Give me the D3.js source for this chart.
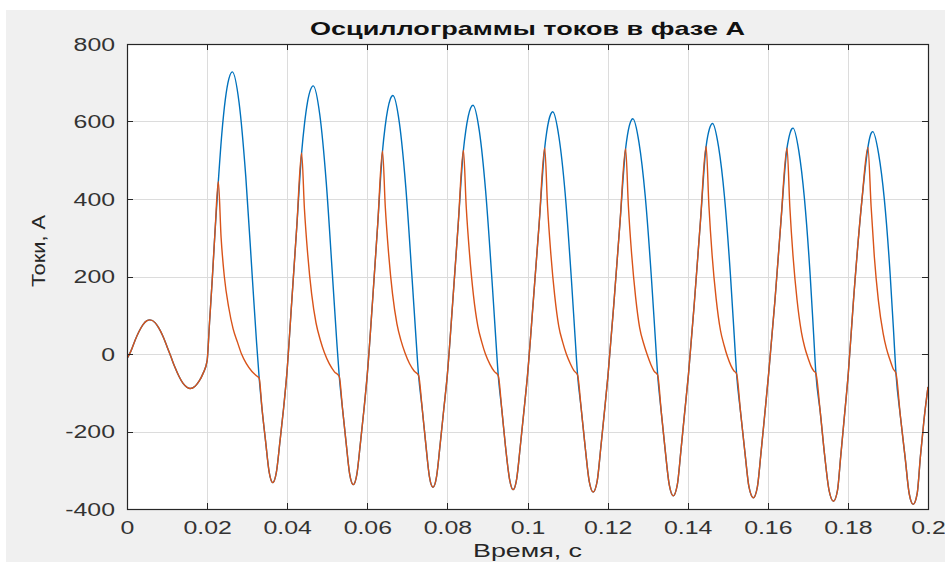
<!DOCTYPE html>
<html>
<head>
<meta charset="utf-8">
<script src="https://cdn.jsdelivr.net/npm/d3@7"></script>
<style>
  html, body { margin: 0; padding: 0; background: #ffffff; }
  svg { display: block; }
</style>
</head>
<body>
<svg id="chart" width="945" height="562"></svg>
<script>
// Axis ticks
const xTicks = [0, 0.02, 0.04, 0.06, 0.08, 0.1, 0.12, 0.14, 0.16, 0.18, 0.2];
const xTickLabels = ["0", "0.02", "0.04", "0.06", "0.08", "0.1", "0.12", "0.14", "0.16", "0.18", "0.2"];
const yTicks = [-400, -200, 0, 200, 400, 600, 800];
const yTickLabels = ["-400", "-200", "0", "200", "400", "600", "800"];

// [time, s ; current, A] where both phase-A currents coincide
const sharedTrace = [
  [0, -12], [0.001, 8], [0.002, 35], [0.003, 58], [0.004, 76], [0.005, 86], [0.0057, 88],
  [0.007, 81], [0.008, 66], [0.009, 45], [0.010, 19], [0.011, -8], [0.012, -35], [0.013, -58],
  [0.014, -76], [0.015, -86], [0.0158, -89], [0.017, -83], [0.018, -70], [0.019, -50], [0.0200, -18],
  [0.0206, 80], [0.0213, 195], [0.0220, 320], [0.0228, 445],
  [0.0330, -62], [0.0337, -140], [0.0346, -225], [0.0355, -305], [0.0364, -332], [0.0373, -305],
  [0.0382, -225], [0.0391, -140], [0.0399, -52], [0.0411, 130], [0.0424, 330], [0.0436, 519],
  [0.0530, -58], [0.0538, -140], [0.0547, -228], [0.0556, -310], [0.0565, -337], [0.0574, -310],
  [0.0583, -228], [0.0592, -140], [0.0600, -52], [0.0613, 135], [0.0626, 335], [0.0638, 524],
  [0.0728, -55], [0.0737, -140], [0.0746, -232], [0.0755, -316], [0.0764, -344], [0.0773, -316],
  [0.0782, -232], [0.0791, -142], [0.0800, -52], [0.0813, 130], [0.0827, 335], [0.0840, 526],
  [0.0927, -56], [0.0936, -145], [0.0945, -238], [0.0955, -322], [0.0964, -350], [0.0973, -322],
  [0.0982, -238], [0.0991, -148], [0.1000, -55], [0.1014, 130], [0.1029, 335], [0.1043, 532],
  [0.1125, -54], [0.1134, -140], [0.1144, -240], [0.1154, -328], [0.1164, -356], [0.1174, -328],
  [0.1183, -242], [0.1192, -150], [0.1201, -55], [0.1216, 135], [0.1231, 340], [0.1245, 530],
  [0.1325, -54], [0.1334, -150], [0.1344, -250], [0.1354, -338], [0.1364, -366], [0.1374, -338],
  [0.1383, -250], [0.1392, -155], [0.1402, -52], [0.1417, 138], [0.1432, 345], [0.1446, 536],
  [0.1522, -51], [0.1532, -150], [0.1543, -255], [0.1553, -343], [0.1564, -371], [0.1574, -343],
  [0.1583, -255], [0.1592, -160], [0.1602, -52], [0.1618, 140], [0.1633, 345], [0.1648, 532],
  [0.1720, -50], [0.1731, -150], [0.1742, -262], [0.1753, -352], [0.1764, -380], [0.1774, -352],
  [0.1782, -265], [0.1790, -175], [0.1801, -50], [0.1814, 139], [0.1835, 397], [0.1850, 533],
  [0.1920, -50], [0.1931, -160], [0.1943, -268], [0.1953, -360], [0.1963, -388], [0.1973, -360],
  [0.1981, -265], [0.1990, -170], [0.2000, -85]
];

// First current: positive half-wave humps
const blueHumps = [
  [0.02368, 569], [0.02455, 657], [0.02543, 710], [0.0263, 728],
  [0.02798, 649], [0.02965, 459], [0.03133, 191], [0.03233, 33],
  [0.04433, 595], [0.04505, 649], [0.04578, 681], [0.0465, 692],
  [0.04813, 618], [0.04975, 443], [0.05138, 190], [0.05235, 36],
  [0.06445, 587], [0.0651, 631], [0.06575, 658], [0.0664, 667],
  [0.0680, 597], [0.0696, 432], [0.0712, 192], [0.07216, 41],
  [0.0846, 577], [0.0852, 613], [0.0858, 635], [0.0864, 642],
  [0.08798, 575], [0.08955, 420], [0.09113, 191], [0.09207, 41],
  [0.1048, 573], [0.1053, 602], [0.1058, 619], [0.1063, 625],
  [0.10785, 560], [0.1094, 415], [0.11095, 194], [0.11188, 44],
  [0.12495, 564], [0.1254, 588], [0.12585, 602], [0.1263, 607],
  [0.12785, 545], [0.1294, 407], [0.13095, 195], [0.13188, 46],
  [0.1450, 562], [0.1454, 580], [0.1458, 591], [0.1462, 595],
  [0.1477, 535], [0.1492, 404], [0.1507, 199], [0.1516, 50],
  [0.16518, 554], [0.16555, 570], [0.16593, 580], [0.1663, 583],
  [0.16773, 525], [0.16915, 401], [0.17058, 203], [0.17143, 53],
  [0.1853, 551], [0.1856, 564], [0.1859, 571], [0.1862, 574],
  [0.18765, 518], [0.1891, 399], [0.19055, 206], [0.19142, 56]
];

// Second current: decaying tails after each spike
const orangeTails = [
  [0.0235, 300], [0.0243, 200], [0.0254, 120], [0.0265, 65], [0.0276, 30], [0.0286, 0],
  [0.0298, -25], [0.0312, -45], [0.0323, -56],
  [0.0443, 375], [0.0451, 260], [0.0461, 155], [0.0472, 80], [0.0483, 35], [0.0493, 3], [0.0505, -25], [0.0518, -46],
  [0.0645, 378], [0.0653, 262], [0.0663, 155], [0.0674, 78], [0.0684, 35], [0.0694, 3], [0.0705, -24], [0.0717, -44],
  [0.0847, 380], [0.0855, 262], [0.0865, 152], [0.0876, 72], [0.0886, 30], [0.0895, 0], [0.0906, -26], [0.0917, -45],
  [0.1050, 382], [0.1058, 262], [0.1068, 150], [0.1078, 72], [0.1088, 30], [0.1097, 0], [0.1107, -25], [0.1116, -43],
  [0.1252, 380], [0.1260, 258], [0.1270, 146], [0.1280, 68], [0.1290, 27], [0.1299, -2], [0.1308, -27], [0.1316, -44],
  [0.1453, 382], [0.1461, 255], [0.1471, 143], [0.1482, 60], [0.1491, 22], [0.1499, -6], [0.1508, -30], [0.1515, -43],
  [0.1655, 380], [0.1663, 253], [0.1673, 140], [0.1684, 56], [0.1692, 18], [0.1701, -12], [0.1709, -34], [0.1715, -44],
  [0.1858, 380], [0.1866, 251], [0.1876, 139], [0.1888, 53], [0.1896, 15], [0.1905, -15], [0.1913, -38]
];

const byTime = (a, b) => a[0] - b[0];
const blueSeries = sharedTrace.concat(blueHumps).sort(byTime);
const orangeSeries = sharedTrace.concat(orangeTails).sort(byTime);

const W = 945, H = 562;
const plot = { left: 127, right: 928, top: 44, bottom: 509 };
const fontFamily = "'Liberation Sans', Arial, Helvetica, sans-serif";
const stretch = 1.38;

const svg = d3.select("#chart");

// figure background
svg.append("rect")
  .attr("x", 6).attr("y", 10)
  .attr("width", W - 6).attr("height", H - 10)
  .attr("fill", "#f0f0f0");

const x = d3.scaleLinear().domain([0, 0.2]).range([plot.left, plot.right]);
const y = d3.scaleLinear().domain([-400, 800]).range([plot.bottom, plot.top]);

// plot area
svg.append("rect")
  .attr("x", plot.left).attr("y", plot.top)
  .attr("width", plot.right - plot.left).attr("height", plot.bottom - plot.top)
  .attr("fill", "#ffffff");

// grid
const grid = svg.append("g").attr("stroke", "#dcdcdc").attr("stroke-width", 1);
grid.selectAll("line.vx").data(xTicks.slice(1, -1)).join("line")
  .attr("x1", d => Math.round(x(d)) + 0.5).attr("x2", d => Math.round(x(d)) + 0.5)
  .attr("y1", plot.top).attr("y2", plot.bottom);
grid.selectAll("line.hy").data(yTicks.slice(1, -1)).join("line")
  .attr("x1", plot.left).attr("x2", plot.right)
  .attr("y1", d => Math.round(y(d)) + 0.5).attr("y2", d => Math.round(y(d)) + 0.5);

// curves
svg.append("defs").append("clipPath").attr("id", "plotClip")
  .append("rect")
  .attr("x", plot.left).attr("y", plot.top)
  .attr("width", plot.right - plot.left).attr("height", plot.bottom - plot.top);

const line = d3.line()
  .x(d => x(d[0]))
  .y(d => y(d[1]))
  .curve(d3.curveMonotoneX);

const curves = svg.append("g").attr("clip-path", "url(#plotClip)");
curves.append("path").datum(blueSeries)
  .attr("d", line).attr("fill", "none")
  .attr("stroke", "#0072BD").attr("stroke-width", 1.4).attr("stroke-linejoin", "round");
curves.append("path").datum(orangeSeries)
  .attr("d", line).attr("fill", "none")
  .attr("stroke", "#D95319").attr("stroke-width", 1.4).attr("stroke-linejoin", "round");

// axes with inward ticks on all four sides
const axisColor = "#262626";
const tickLen = 6;

const xAxis = svg.append("g").attr("transform", `translate(0,${plot.bottom})`)
  .call(d3.axisBottom(x).tickValues(xTicks).tickSize(0)
    .tickFormat((d, i) => xTickLabels[i]));
xAxis.select(".domain").remove();
xAxis.selectAll("text")
  .attr("y", 25).attr("dy", null)
  .attr("transform", `scale(${stretch},1)`)
  .attr("font-family", fontFamily).attr("font-size", 18)
  .attr("fill", "#333333");

const yAxis = svg.append("g").attr("transform", `translate(${plot.left},0)`)
  .call(d3.axisLeft(y).tickValues(yTicks).tickSize(0)
    .tickFormat((d, i) => yTickLabels[i]));
yAxis.select(".domain").remove();
yAxis.selectAll("text")
  .attr("x", -12 / stretch).attr("dy", "0.36em")
  .attr("transform", `scale(${stretch},1)`)
  .attr("font-family", fontFamily).attr("font-size", 18)
  .attr("fill", "#333333");

const ticks = svg.append("g").attr("stroke", axisColor).attr("stroke-width", 1);
xTicks.forEach(t => {
  const px = Math.round(x(t)) + 0.5;
  ticks.append("line").attr("x1", px).attr("x2", px).attr("y1", plot.bottom).attr("y2", plot.bottom - tickLen);
  ticks.append("line").attr("x1", px).attr("x2", px).attr("y1", plot.top).attr("y2", plot.top + tickLen);
});
yTicks.forEach(v => {
  const py = Math.round(y(v)) + 0.5;
  ticks.append("line").attr("x1", plot.left).attr("x2", plot.left + tickLen).attr("y1", py).attr("y2", py);
  ticks.append("line").attr("x1", plot.right).attr("x2", plot.right - tickLen).attr("y1", py).attr("y2", py);
});

// box
svg.append("rect")
  .attr("x", plot.left + 0.5).attr("y", plot.top + 0.5)
  .attr("width", plot.right - plot.left).attr("height", plot.bottom - plot.top)
  .attr("fill", "none").attr("stroke", axisColor).attr("stroke-width", 1.2);

// title and axis labels
svg.append("text")
  .attr("x", (plot.left + plot.right) / 2).attr("y", 35)
  .attr("text-anchor", "middle")
  .attr("font-family", fontFamily).attr("font-size", 19).attr("font-weight", "bold")
  .attr("fill", "#111111")
  .attr("textLength", 435).attr("lengthAdjust", "spacingAndGlyphs")
  .text("Осциллограммы токов в фазе А");

svg.append("text")
  .attr("x", (plot.left + plot.right) / 2).attr("y", 557)
  .attr("text-anchor", "middle")
  .attr("font-family", fontFamily).attr("font-size", 18)
  .attr("fill", "#262626")
  .attr("textLength", 109).attr("lengthAdjust", "spacingAndGlyphs")
  .text("Время, с");

svg.append("text")
  .attr("transform", "translate(45,251) rotate(-90)")
  .attr("text-anchor", "middle")
  .attr("font-family", fontFamily).attr("font-size", 18)
  .attr("fill", "#262626")
  .attr("textLength", 72).attr("lengthAdjust", "spacingAndGlyphs")
  .text("Токи, А");
</script>
</body>
</html>
